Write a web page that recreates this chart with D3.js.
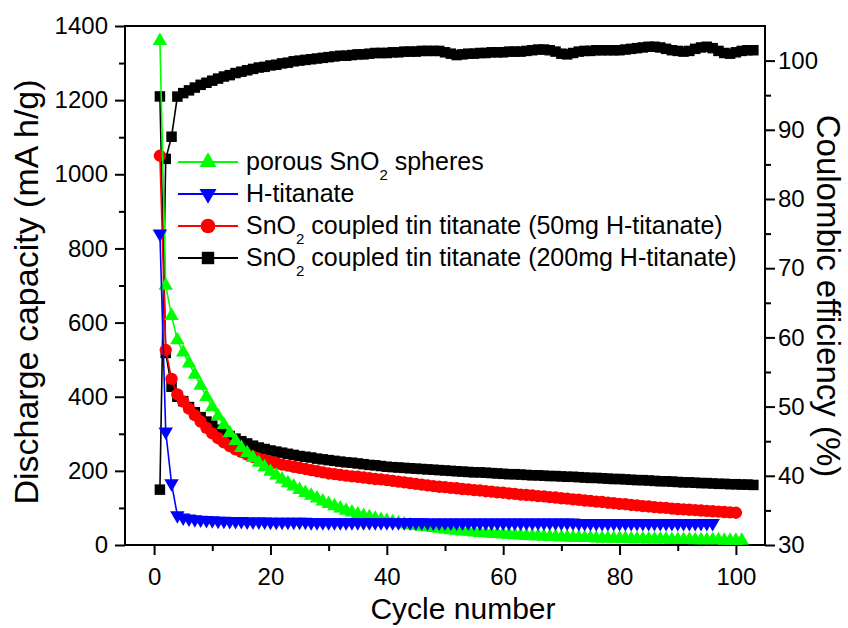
<!DOCTYPE html>
<html>
<head>
<meta charset="utf-8">
<script src="https://cdn.jsdelivr.net/npm/d3@7"></script>
<style>
  body { margin: 0; background: #fff; }
  svg { display: block; font-family: "Liberation Sans", Arial, sans-serif; }
  .axis text { font-size: 24px; fill: #000; }
  .axis line { stroke: #000; stroke-width: 2; }
  .axis path { display: none; }
</style>
</head>
<body>
<div id="container"></div>
<script>
/* CONSTANTS AND GLOBALS */
const width = 848,
  height = 628,
  margin = { top: 26, bottom: 83, left: 125, right: 83 };

/* DATA (one value per cycle starting at cycle 1) */
// discharge capacity, mA h/g
const porousSnO2 = [
  1360, 700, 618, 553, 520, 490, 460, 430, 400, 372,
  348, 324, 302, 281, 262, 248, 235, 222, 210, 198,
  188, 177, 167, 158, 149, 141, 133, 126, 118, 111,
  105, 99, 93, 88, 83, 79, 75, 71, 68, 65,
  62, 59, 56, 54, 52, 50, 48, 46, 44, 42,
  40, 39, 37, 36, 34, 33, 32, 31, 30, 29,
  28, 27, 26, 25, 24, 24, 23, 22, 22, 21,
  21, 20, 20, 19, 19, 18, 18, 18, 17, 17,
  17, 16, 16, 16, 15, 15, 15, 15, 14, 14,
  14, 14, 13, 13, 13, 13, 13, 12, 12, 12,
  12
];
const hTitanate = [
  840, 306, 166, 80, 74, 71, 69, 68, 67, 66,
  65, 65, 64, 64, 64, 63, 63, 63, 63, 62,
  62, 62, 62, 62, 62, 62, 61, 61, 61, 61,
  61, 61, 61, 61, 61, 61, 61, 61, 61, 61,
  61, 61, 61, 61, 61, 61, 60, 60, 60, 60,
  60, 60, 60, 60, 60, 60, 60, 60, 60, 60,
  60, 60, 60, 60, 60, 60, 60, 60, 60, 60,
  60, 60, 59, 59, 59, 59, 59, 59, 59, 59,
  59, 59, 59, 59, 59, 59, 59, 59, 59, 59,
  59, 59, 59, 59, 59, 59
];
const tin50mg = [
  1050, 526, 448, 406, 387, 368, 350, 333, 316, 301,
  288, 277, 267, 258, 251, 244, 238, 233, 229, 225,
  221, 217, 214, 211, 208, 205, 202, 199, 196, 193,
  191, 189, 187, 185, 184, 182, 180, 178, 177, 175,
  173, 171, 169, 167, 165, 163, 161, 159, 157, 156,
  154, 153, 151, 150, 148, 147, 145, 144, 142, 141,
  139, 138, 136, 135, 134, 132, 131, 129, 128, 126,
  125, 123, 122, 120, 119, 117, 116, 114, 113, 111,
  110, 108, 107, 105, 104, 102, 101, 100, 98, 97,
  96, 95, 94, 93, 92, 91, 90, 89, 88, 87
];
const tin200mg = [
  1210, 518, 427, 400, 388, 372, 358, 345, 333, 322,
  311, 302, 294, 287, 280, 274, 268, 263, 259, 255,
  252, 249, 246, 243, 240, 238, 236, 233, 231, 229,
  227, 225, 223, 222, 220, 218, 216, 215, 213, 211,
  210, 209, 208, 207, 206, 205, 204, 203, 202, 201,
  200, 199, 198, 197, 196, 196, 195, 194, 193, 192,
  191, 191, 190, 189, 188, 188, 187, 186, 186, 185,
  184, 184, 183, 182, 181, 181, 180, 179, 178, 178,
  177, 176, 175, 175, 174, 173, 172, 172, 171, 170,
  169, 169, 168, 167, 167, 166, 165, 165, 164, 164,
  163, 163, 162
];
// coulombic efficiency, % (200mg H-titanate sample, right axis)
const tin200mgCE = [
  38.0, 85.8, 89.0, 94.8, 95.3, 95.7, 96.1, 96.5, 96.8, 97.1,
  97.4, 97.7, 97.9, 98.2, 98.4, 98.6, 98.8, 99.0, 99.1, 99.3,
  99.4, 99.6, 99.7, 99.9, 100.0, 100.1, 100.2, 100.3, 100.4, 100.5,
  100.6, 100.7, 100.7, 100.8, 100.9, 100.9, 101.0, 101.1, 101.1, 101.1,
  101.2, 101.2, 101.3, 101.3, 101.3, 101.4, 101.4, 101.4, 101.4, 101.2,
  101.0, 100.8, 100.9, 101.0, 101.0, 101.1, 101.1, 101.2, 101.2, 101.2,
  101.3, 101.3, 101.3, 101.4, 101.5, 101.6, 101.6, 101.5, 101.3, 101.0,
  100.9, 101.1, 101.3, 101.4, 101.4, 101.5, 101.5, 101.5, 101.5, 101.5,
  101.6, 101.7, 101.8, 101.9, 102.0, 102.0, 101.9, 101.7, 101.5, 101.4,
  101.3, 101.4, 101.7, 101.9, 102.0, 101.8, 101.4, 101.1, 101.0, 101.2,
  101.4, 101.5, 101.5
];

// legend text, "_2" marks the subscript
const legendLabels = [
  "porous SnO_2 spheres",
  "H-titanate",
  "SnO_2 coupled tin titanate (50mg H-titanate)",
  "SnO_2 coupled tin titanate (200mg H-titanate)"
];

// axis ticks
const xTicks = [0, 20, 40, 60, 80, 100];
const xMinorTicks = [10, 30, 50, 70, 90];
const yLeftTicks = [0, 200, 400, 600, 800, 1000, 1200, 1400];
const yLeftMinorTicks = [100, 300, 500, 700, 900, 1100, 1300];
const yRightTicks = [30, 40, 50, 60, 70, 80, 90, 100];
const yRightMinorTicks = [35, 45, 55, 65, 75, 85, 95];

// series setup: drawing order bottom -> top
const series = [
  { name: "ce", values: tin200mgCE, axis: "right", color: "#000000", symbol: d3.symbolSquare, size: 110, rotate: 0 },
  { name: "tin200", values: tin200mg, axis: "left", color: "#000000", symbol: d3.symbolSquare, size: 110, rotate: 0 },
  { name: "tin50", values: tin50mg, axis: "left", color: "#ff0000", symbol: d3.symbolCircle, size: 120, rotate: 0 },
  { name: "porous", values: porousSnO2, axis: "left", color: "#00ff00", symbol: d3.symbolTriangle, size: 90, rotate: 0 },
  { name: "htit", values: hTitanate, axis: "left", color: "#0000ff", symbol: d3.symbolTriangle, size: 90, rotate: 180 }
];
// legend uses the same styles, in legend order
const legendSeries = ["porous", "htit", "tin50", "tin200"];

/* SCALES */
const xScale = d3.scaleLinear()
  .domain([-5, 105])
  .range([margin.left, width - margin.right]);

const yLeft = d3.scaleLinear()
  .domain([0, 1400])
  .range([height - margin.bottom, margin.top]);

const yRight = d3.scaleLinear()
  .domain([30, 105])
  .range([height - margin.bottom, margin.top]);

/* SVG */
const svg = d3.select("#container")
  .append("svg")
  .attr("width", width)
  .attr("height", height);

// + AXES
const plotBottom = height - margin.bottom;
const plotRight = width - margin.right;
const plain = d3.format("d");

svg.append("g").attr("class", "axis")
  .attr("transform", `translate(0, ${plotBottom})`)
  .call(d3.axisBottom(xScale).tickValues(xTicks).tickFormat(plain).tickSize(10).tickPadding(13).tickSizeOuter(0));
svg.append("g").attr("class", "axis")
  .attr("transform", `translate(0, ${plotBottom})`)
  .call(d3.axisBottom(xScale).tickValues(xMinorTicks).tickSize(6).tickFormat("").tickSizeOuter(0));

svg.append("g").attr("class", "axis")
  .attr("transform", `translate(${margin.left}, 0)`)
  .call(d3.axisLeft(yLeft).tickValues(yLeftTicks).tickFormat(plain).tickSize(10).tickPadding(7).tickSizeOuter(0));
svg.append("g").attr("class", "axis")
  .attr("transform", `translate(${margin.left}, 0)`)
  .call(d3.axisLeft(yLeft).tickValues(yLeftMinorTicks).tickSize(6).tickFormat("").tickSizeOuter(0));

svg.append("g").attr("class", "axis")
  .attr("transform", `translate(${plotRight}, 0)`)
  .call(d3.axisRight(yRight).tickValues(yRightTicks).tickFormat(plain).tickSize(10).tickPadding(3).tickSizeOuter(0));
svg.append("g").attr("class", "axis")
  .attr("transform", `translate(${plotRight}, 0)`)
  .call(d3.axisRight(yRight).tickValues(yRightMinorTicks).tickSize(6).tickFormat("").tickSizeOuter(0));

// frame
svg.append("rect")
  .attr("x", margin.left)
  .attr("y", margin.top)
  .attr("width", plotRight - margin.left)
  .attr("height", plotBottom - margin.top)
  .attr("fill", "none")
  .attr("stroke", "#000")
  .attr("stroke-width", 2);

// axis titles
svg.append("text")
  .attr("transform", `translate(38, 292) rotate(-90)`)
  .attr("text-anchor", "middle")
  .attr("font-size", 34)
  .text("Discharge capacity (mA h/g)");

svg.append("text")
  .attr("transform", `translate(817, 296) rotate(90)`)
  .attr("text-anchor", "middle")
  .attr("font-size", 33)
  .text("Coulombic efficiency (%)");

svg.append("text")
  .attr("x", 463)
  .attr("y", 619)
  .attr("text-anchor", "middle")
  .attr("font-size", 30)
  .text("Cycle number");

/* DRAW SERIES */
series.forEach(s => {
  const yScale = s.axis === "left" ? yLeft : yRight;
  const data = s.values.map((v, i) => ({ cycle: i + 1, v }));

  const lineGen = d3.line()
    .x(d => xScale(d.cycle))
    .y(d => yScale(d.v));

  const g = svg.append("g").attr("class", "series-" + s.name);

  g.append("path")
    .datum(data)
    .attr("fill", "none")
    .attr("stroke", s.color)
    .attr("stroke-width", 1.6)
    .attr("d", lineGen);

  g.selectAll("path.mark")
    .data(data)
    .join("path")
    .attr("class", "mark")
    .attr("transform", d => `translate(${xScale(d.cycle)}, ${yScale(d.v)}) rotate(${s.rotate})`)
    .attr("d", d3.symbol().type(s.symbol).size(s.size))
    .attr("fill", s.color);
});

/* LEGEND */
const legend = svg.append("g").attr("class", "legend");
legendSeries.forEach((name, i) => {
  const s = series.find(d => d.name === name);
  const row = legend.append("g").attr("transform", `translate(0, ${162 + i * 32})`);

  row.append("line")
    .attr("x1", 178).attr("x2", 238)
    .attr("y1", 0).attr("y2", 0)
    .attr("stroke", s.color)
    .attr("stroke-width", 2);

  row.append("path")
    .attr("transform", `translate(208, 0) rotate(${s.rotate})`)
    .attr("d", d3.symbol().type(s.symbol).size(s.size * 1.4))
    .attr("fill", s.color);

  const txt = row.append("text")
    .attr("x", 246)
    .attr("y", 0)
    .attr("dy", "0.33em")
    .attr("font-size", 25);

  const parts = legendLabels[i].split("_2");
  parts.forEach((p, j) => {
    if (j > 0) {
      txt.append("tspan").attr("font-size", 15).attr("dy", 10).text("2");
      txt.append("tspan").attr("dy", -10).text(p);
    } else {
      txt.append("tspan").text(p);
    }
  });
});
</script>
</body>
</html>
